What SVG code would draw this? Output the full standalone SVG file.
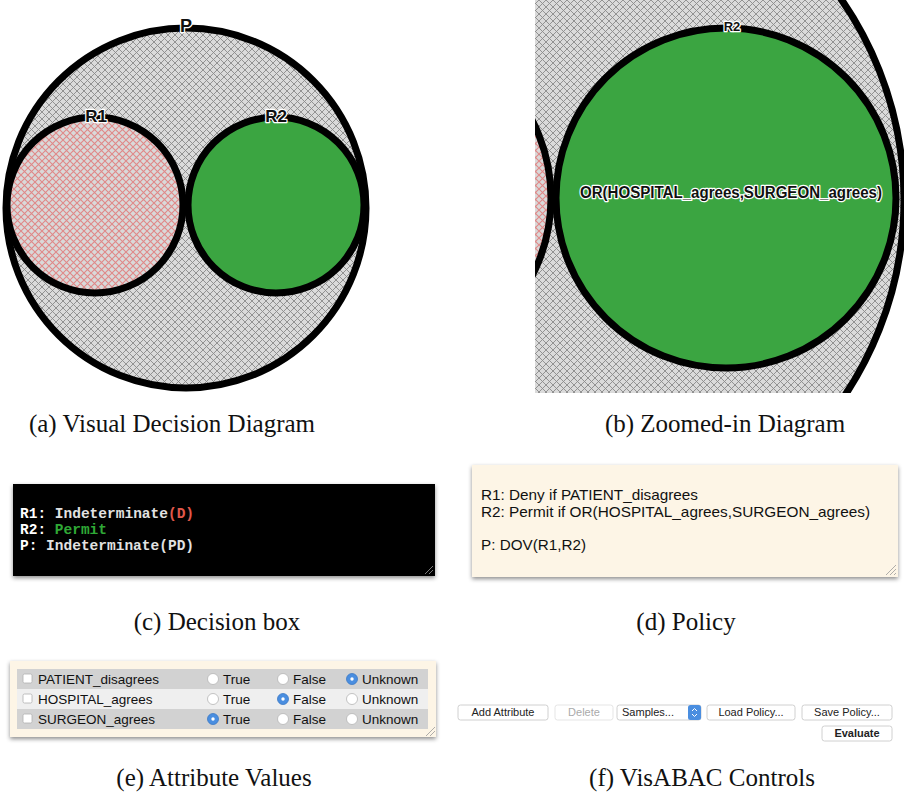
<svg xmlns="http://www.w3.org/2000/svg" width="904" height="796" viewBox="0 0 904 796">
<defs>
  <pattern id="hatchGray" width="7" height="7" patternUnits="userSpaceOnUse">
    <rect width="7" height="7" fill="#dadada"/>
    <path d="M0,0L7,7M7,0L0,7" stroke="#8a8a8a" stroke-width="0.9"/>
  </pattern>
  <pattern id="hatchPink" width="7" height="7" patternUnits="userSpaceOnUse">
    <rect width="7" height="7" fill="#d9d9d9"/>
    <path d="M0,0L7,7M7,0L0,7" stroke="#e08888" stroke-width="1.1"/>
  </pattern>
  <clipPath id="clipB"><rect x="535" y="0" width="369" height="393"/></clipPath>
  <filter id="shadow" x="-5%" y="-10%" width="110%" height="130%">
    <feDropShadow dx="0" dy="2" stdDeviation="2" flood-color="#000" flood-opacity="0.45"/>
  </filter>
</defs>
<style>
  .ring { stroke:#000; stroke-width:7; }
  .lbl { font-family:"Liberation Sans",Arial,sans-serif; font-weight:bold; fill:#111; stroke:#fff; stroke-width:2.5; paint-order:stroke; stroke-linejoin:round; text-anchor:middle; }
  .cap { font-family:"Liberation Serif","Times New Roman",serif; font-size:25px; fill:#111; text-anchor:middle; }
  .mono { font-family:"Liberation Mono","DejaVu Sans Mono",monospace; font-size:14.5px; font-weight:bold; fill:#e2e2e2; }
  .mono .w { fill:#ffffff; }
  .pol { font-family:"Liberation Sans",Arial,sans-serif; font-size:14.5px; fill:#111; }
  .att { font-family:"Liberation Sans",Arial,sans-serif; font-size:13.5px; fill:#111; }
  .radio { fill:#fff; stroke:#b5b5b5; stroke-width:0.8; }
  .radioOn { fill:#4a8ee0; stroke:#3b78c4; stroke-width:0.8; }
  .btn { fill:#fff; stroke:#c4c4c4; stroke-width:0.8; }
  .btnt { font-family:"Liberation Sans",Arial,sans-serif; font-size:11px; fill:#222; text-anchor:middle; }
  .btnt.dis { fill:#aaaaaa; }
  .grip { stroke:#9a9a9a; stroke-width:0.8; }
</style>

<!-- (a) Visual Decision Diagram -->
<g id="panelA">
  <g id="nodeP">
    <circle cx="186" cy="208" r="180" fill="url(#hatchGray)" class="ring"/>
  </g>
  <g id="nodeR1">
    <circle cx="95" cy="205" r="88" fill="url(#hatchPink)" class="ring"/>
  </g>
  <g id="nodeR2">
    <circle cx="276" cy="205" r="88" fill="#3ba541" class="ring"/>
  </g>
  <text class="lbl" x="186" y="32" font-size="18">P</text>
  <text class="lbl" x="96" y="122" font-size="17">R1</text>
  <text class="lbl" x="276" y="122" font-size="17">R2</text>
</g>

<!-- (b) Zoomed-in Diagram -->
<g id="panelB" clip-path="url(#clipB)">
  <g id="nodeP_zoom">
    <circle cx="552" cy="200" r="352" fill="url(#hatchGray)" class="ring"/>
  </g>
  <g id="nodeR1_zoom">
    <circle cx="381" cy="198" r="170" fill="url(#hatchPink)" class="ring"/>
  </g>
  <g id="nodeR2_zoom">
    <circle cx="726" cy="198" r="170" fill="#3ba541" class="ring"/>
  </g>
  <text class="lbl" x="732" y="31" font-size="13" stroke-width="2">R2</text>
  <text class="lbl" x="731" y="198" font-size="16" textLength="302" lengthAdjust="spacingAndGlyphs">OR(HOSPITAL_agrees,SURGEON_agrees)</text>
</g>

<!-- (c) Decision box -->
<g id="panelC">
  <rect x="13" y="484" width="422" height="92" fill="#000" filter="url(#shadow)"/>
  <text class="mono" x="20" y="518"><tspan class="w">R1: </tspan>Indeterminate<tspan fill="#e0584a">(D)</tspan></text>
  <text class="mono" x="20" y="534"><tspan class="w">R2: </tspan><tspan fill="#2fa836">Permit</tspan></text>
  <text class="mono" x="20" y="550"><tspan class="w">P: </tspan>Indeterminate(PD)</text>
  <path class="grip" d="M433,566L425,574M433,570L429,574"/>
</g>

<!-- (d) Policy -->
<g id="panelD">
  <rect x="472" y="465" width="426" height="112" fill="#fdf5e6" filter="url(#shadow)"/>
  <text class="pol" x="481" y="500" textLength="217" lengthAdjust="spacingAndGlyphs">R1: Deny if PATIENT_disagrees</text>
  <text class="pol" x="481" y="517" textLength="389" lengthAdjust="spacingAndGlyphs">R2: Permit if OR(HOSPITAL_agrees,SURGEON_agrees)</text>
  <text class="pol" x="481" y="550" textLength="105" lengthAdjust="spacingAndGlyphs">P: DOV(R1,R2)</text>
  <path class="grip" d="M896,565L886,575M896,569L890,575M896,573L894,575"/>
</g>

<!-- (e) Attribute Values -->
<g id="panelE">
  <rect x="10" y="661" width="426" height="76" fill="#fdf5e6" filter="url(#shadow)"/>
  <rect x="17" y="669" width="411" height="20" fill="#d2d2d2"/>
  <rect x="17" y="689" width="411" height="20" fill="#efefef"/>
  <rect x="17" y="709" width="411" height="20" fill="#d2d2d2"/>
  <g id="row1">
    <rect x="23" y="674" width="9" height="9" rx="1.5" fill="#fff" stroke="#b0b0b0" stroke-width="0.8"/>
    <text class="att" x="38" y="684">PATIENT_disagrees</text>
    <circle class="radio" cx="213" cy="679" r="5.5"/><text class="att" x="223" y="684">True</text>
    <circle class="radio" cx="283" cy="679" r="5.5"/><text class="att" x="293" y="684">False</text>
    <circle class="radioOn" cx="352" cy="679" r="5.5"/><circle cx="352" cy="679" r="1.7" fill="#fff"/><text class="att" x="362" y="684">Unknown</text>
  </g>
  <g id="row2">
    <rect x="23" y="694" width="9" height="9" rx="1.5" fill="#fff" stroke="#b0b0b0" stroke-width="0.8"/>
    <text class="att" x="38" y="704">HOSPITAL_agrees</text>
    <circle class="radio" cx="213" cy="699" r="5.5"/><text class="att" x="223" y="704">True</text>
    <circle class="radioOn" cx="283" cy="699" r="5.5"/><circle cx="283" cy="699" r="1.7" fill="#fff"/><text class="att" x="293" y="704">False</text>
    <circle class="radio" cx="352" cy="699" r="5.5"/><text class="att" x="362" y="704">Unknown</text>
  </g>
  <g id="row3">
    <rect x="23" y="714" width="9" height="9" rx="1.5" fill="#fff" stroke="#b0b0b0" stroke-width="0.8"/>
    <text class="att" x="38" y="724">SURGEON_agrees</text>
    <circle class="radioOn" cx="213" cy="719" r="5.5"/><circle cx="213" cy="719" r="1.7" fill="#fff"/><text class="att" x="223" y="724">True</text>
    <circle class="radio" cx="283" cy="719" r="5.5"/><text class="att" x="293" y="724">False</text>
    <circle class="radio" cx="352" cy="719" r="5.5"/><text class="att" x="362" y="724">Unknown</text>
  </g>
  <path class="grip" d="M435,727L426,736M435,731L430,736"/>
</g>

<!-- (f) VisABAC Controls -->
<g id="panelF">
  <g id="btnAdd"><rect class="btn" x="458" y="705" width="90" height="15" rx="2.5"/><text class="btnt" x="503" y="716">Add Attribute</text></g>
  <g id="btnDelete"><rect class="btn" x="555" y="705" width="58" height="15" rx="2.5" style="stroke:#dedede"/><text class="btnt dis" x="584" y="716">Delete</text></g>
  <g id="btnSamples"><rect class="btn" x="617" y="705" width="84" height="15" rx="2.5"/><text class="btnt" x="648" y="716">Samples...</text>
    <rect x="688" y="705" width="13" height="15" rx="2.5" fill="#4a8ee0"/>
    <path d="M692,711L694.5,708.5L697,711M692,714L694.5,716.5L697,714" fill="none" stroke="#fff" stroke-width="1"/></g>
  <g id="btnLoad"><rect class="btn" x="707" y="705" width="88" height="15" rx="2.5"/><text class="btnt" x="751" y="716">Load Policy...</text></g>
  <g id="btnSave"><rect class="btn" x="802" y="705" width="90" height="15" rx="2.5"/><text class="btnt" x="847" y="716">Save Policy...</text></g>
  <g id="btnEval"><rect class="btn" x="822" y="726" width="70" height="15" rx="2.5"/><text class="btnt" x="857" y="737" font-weight="bold">Evaluate</text></g>
</g>

<!-- captions -->
<g id="captions">
  <text class="cap" x="172" y="432">(a) Visual Decision Diagram</text>
  <text class="cap" x="725" y="432">(b) Zoomed-in Diagram</text>
  <text class="cap" x="217" y="630">(c) Decision box</text>
  <text class="cap" x="686" y="630">(d) Policy</text>
  <text class="cap" x="214" y="786">(e) Attribute Values</text>
  <text class="cap" x="702" y="786">(f) VisABAC Controls</text>
</g>
</svg>
